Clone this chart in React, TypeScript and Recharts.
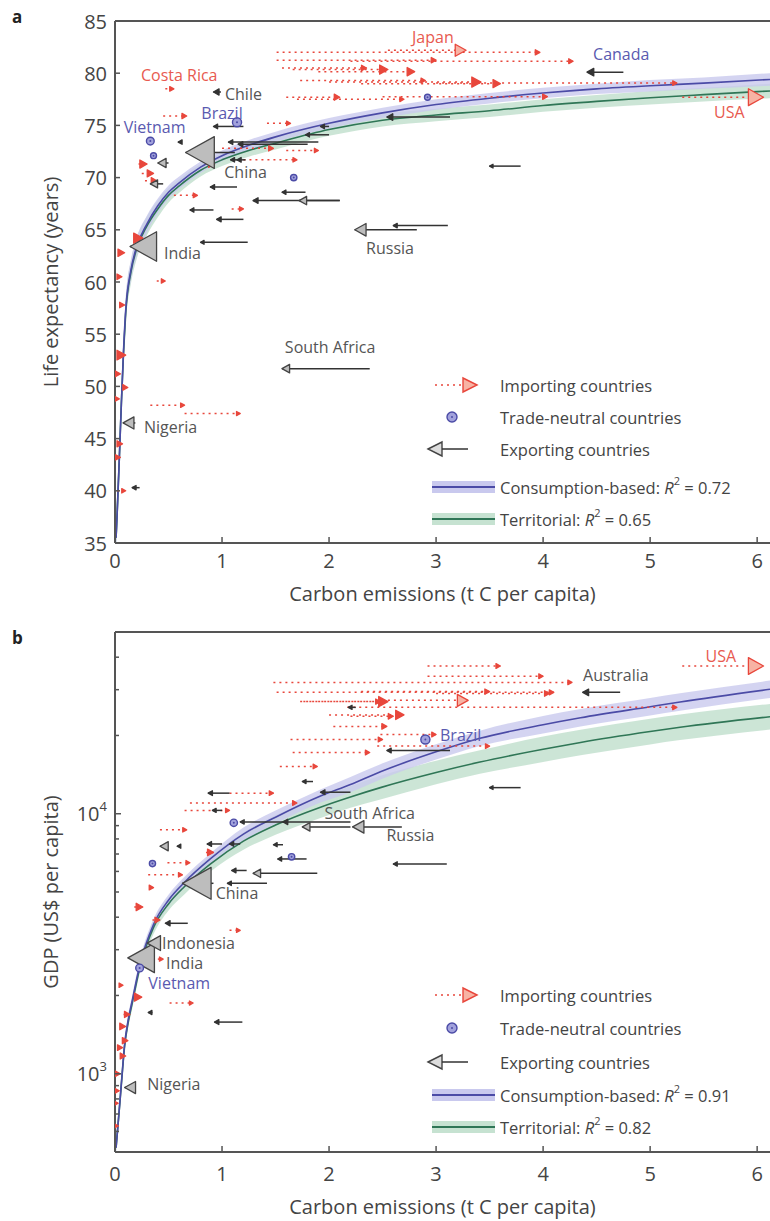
import React from "react";
import { ComposedChart, XAxis, YAxis, Line, Area, Scatter, ReferenceLine } from "recharts";

const FONT = '"Open Sans", "DejaVu Sans", sans-serif';
const INK = "#444";
const AXIS = "#555";
const RED = "#e8473c";
const RED_FILL = "#f7b3a4";
const BLUE = "#4b4ba6";
const BLUE_BAND = "#c9c9ee";
const GREEN = "#2f7656";
const GREEN_BAND = "#c6e2d1";
const NEUTRAL_FILL = "#a2a2dc";
const EXP_FILL = "#bdbdbd";
const TAG_COLORS: Record<string, string> = { imp: "#e85a50", neu: "#5a5ab0", exp: "#555" };

const emissionTicks = [0, 1, 2, 3, 4, 5, 6];
const lifeTicks = [35, 40, 45, 50, 55, 60, 65, 70, 75, 80, 85];
const gdpTicks = [600, 700, 800, 900, 1000, 2000, 3000, 4000, 5000, 6000, 7000, 8000, 9000, 10000, 20000, 30000, 40000];

// ---- (a) life expectancy vs per-capita carbon ----
const fitEmissionsA = [0.01, 0.02, 0.04, 0.06, 0.08, 0.1, 0.15, 0.2, 0.3, 0.4, 0.5, 0.6, 0.8, 1, 1.25, 1.5, 2, 2.5, 3, 3.5, 4, 4.5, 5, 5.5, 6.12];
const consFitA = [35.5, 37.8, 43, 48.5, 53.5, 57.3, 61.2, 63.3, 65.6, 67.3, 68.6, 69.5, 71.0, 72.1, 73.1, 73.9, 75.2, 76.2, 77.0, 77.6, 78.1, 78.5, 78.8, 79.05, 79.4];
const consSpreadA = [1.5, 1.5, 1.4, 1.3, 1.2, 1.1, 1.0, 0.9, 0.8, 0.7, 0.65, 0.6, 0.55, 0.5, 0.5, 0.5, 0.5, 0.5, 0.5, 0.5, 0.5, 0.5, 0.55, 0.55, 0.6];
const terrFitA = [35.5, 37.8, 43, 48.5, 53.3, 57.0, 61.0, 63.1, 65.4, 67.0, 68.3, 69.2, 70.7, 71.7, 72.6, 73.3, 74.6, 75.5, 76.0, 76.4, 76.9, 77.3, 77.65, 77.95, 78.3];
const terrSpreadA = [1.6, 1.6, 1.5, 1.4, 1.3, 1.2, 1.1, 1.0, 0.9, 0.8, 0.7, 0.65, 0.6, 0.6, 0.6, 0.6, 0.6, 0.6, 0.6, 0.6, 0.6, 0.6, 0.65, 0.65, 0.7];

// [territorial, consumption, life expectancy, population (millions)]
const importersA: number[][] = [
  [1.51, 3.97, 82.0, 7], [2.55, 3.28, 82.2, 127], [1.51, 3.0, 81.25, 9], [2.2, 4.28, 81.15, 5],
  [1.66, 2.55, 80.35, 60], [1.9, 2.8, 80.15, 45], [1.56, 2.35, 80.5, 10], [1.73, 2.9, 79.3, 5],
  [2.0, 3.42, 79.15, 82], [2.3, 3.6, 79.0, 40], [3.0, 5.25, 79.05, 4], [1.6, 2.1, 77.7, 15],
  [2.5, 4.04, 77.75, 8], [1.7, 2.7, 77.5, 4], [5.3, 6.06, 77.7, 300], [0.47, 0.55, 78.5, 4],
  [0.45, 0.67, 75.9, 8], [1.42, 1.64, 75.2, 3], [0.22, 0.3, 71.3, 40], [0.25, 0.36, 70.4, 25],
  [0.28, 0.39, 69.7, 15], [1.0, 1.48, 72.8, 8], [1.6, 1.9, 72.6, 3], [1.2, 1.7, 71.7, 3],
  [0.85, 0.93, 71.3, 20], [0.55, 0.77, 68.3, 4], [1.09, 1.2, 67.0, 3], [0.2, 0.26, 64.2, 80],
  [0.05, 0.09, 62.8, 30], [0.39, 0.47, 60.1, 3], [0.04, 0.065, 60.5, 10], [0.06, 0.09, 57.8, 10],
  [0.05, 0.1, 53.0, 70], [0.02, 0.05, 51.2, 15], [0.08, 0.12, 49.9, 10], [0.01, 0.04, 48.8, 10],
  [0.04, 0.07, 44.5, 15], [0.02, 0.05, 43.2, 8], [0.02, 0.1, 40.0, 3], [0.33, 0.65, 48.2, 3],
  [0.65, 1.17, 47.4, 2],
];
const exportersA: number[][] = [
  [1.12, 0.66, 72.4, 1300], [0.33, 0.14, 63.4, 1100], [1.9, 1.06, 73.4, 5], [1.8, 1.15, 73.2, 8],
  [0.99, 0.92, 78.2, 16], [1.2, 0.92, 74.9, 4], [0.62, 0.59, 73.4, 3], [1.14, 1.08, 71.7, 3],
  [1.22, 1.14, 71.7, 4], [1.14, 0.89, 69.1, 5], [1.78, 1.56, 68.6, 3], [2.1, 1.29, 67.8, 10],
  [2.1, 1.72, 67.8, 45], [0.92, 0.7, 66.9, 3], [1.2, 0.95, 66.0, 6], [1.24, 0.8, 63.8, 1],
  [2.82, 2.24, 65.0, 143], [3.11, 2.6, 65.4, 3], [3.79, 3.5, 71.1, 1], [2.38, 1.56, 51.7, 47],
  [0.19, 0.075, 46.5, 130], [0.23, 0.16, 40.3, 3], [0.5, 0.4, 71.4, 60], [0.45, 0.33, 69.4, 40],
  [3.13, 2.54, 75.8, 20], [2.0, 1.92, 74.9, 3], [2.0, 1.78, 74.1, 3], [4.75, 4.41, 80.1, 32],
];
// [emissions, life expectancy, population]
const neutralA: number[][] = [
  [1.14, 75.3, 186], [0.33, 73.5, 85], [0.36, 72.1, 10], [1.67, 70.0, 20], [2.92, 77.7, 10],
];
const namesA: [string, number, number, string][] = [
  ["Japan", 2.97, 83.5, "imp"], ["Canada", 4.73, 81.8, "neu"], ["USA", 5.74, 76.25, "imp"],
  ["Costa Rica", 0.6, 79.8, "imp"], ["Chile", 1.2, 78.05, "exp"], ["Brazil", 1.0, 76.2, "neu"],
  ["Vietnam", 0.37, 74.8, "neu"], ["China", 1.22, 70.5, "exp"], ["India", 0.63, 62.8, "exp"],
  ["Russia", 2.57, 63.3, "exp"], ["South Africa", 2.01, 53.75, "exp"], ["Nigeria", 0.52, 46.15, "exp"],
];

// ---- (b) GDP vs per-capita carbon ----
const fitEmissionsB = [0.01, 0.03, 0.05, 0.07, 0.09, 0.12, 0.16, 0.23, 0.36, 0.5, 0.65, 0.89, 1.2, 1.5, 1.92, 2.2, 2.48, 3, 3.41, 4, 4.35, 5, 5.28, 6.12];
const consFitB = [520, 650, 820, 1040, 1300, 1580, 1900, 2600, 3750, 4650, 5450, 6700, 8350, 9700, 11700, 12950, 14500, 17300, 19500, 22000, 23400, 25800, 26900, 30100];
const consSpreadB = [1.05, 1.05, 1.05, 1.05, 1.05, 1.05, 1.05, 1.05, 1.05, 1.05, 1.05, 1.05, 1.06, 1.06, 1.06, 1.07, 1.07, 1.07, 1.07, 1.08, 1.08, 1.08, 1.08, 1.08];
const terrFitB = [520, 650, 815, 1030, 1280, 1550, 1860, 2540, 3650, 4500, 5250, 6400, 7850, 9050, 10600, 11600, 12600, 14400, 15800, 17700, 18800, 20700, 21500, 23600];
const terrSpreadB = [1.05, 1.05, 1.05, 1.05, 1.05, 1.05, 1.05, 1.05, 1.06, 1.06, 1.07, 1.07, 1.08, 1.09, 1.1, 1.1, 1.11, 1.11, 1.11, 1.12, 1.12, 1.12, 1.12, 1.12];

// [territorial, consumption, GDP per capita, population (millions)]
const importersB: number[][] = [
  [2.92, 3.6, 37000, 5], [2.92, 4.0, 33800, 5], [5.3, 6.06, 37000, 300], [1.48, 4.27, 32000, 4],
  [1.51, 4.1, 29300, 6], [2.3, 3.5, 29500, 8], [3.0, 4.06, 29000, 10], [2.55, 3.3, 27300, 127],
  [1.73, 2.55, 27000, 82], [2.0, 2.7, 24000, 60], [1.76, 2.48, 27000, 8], [2.17, 5.25, 25650, 4],
  [2.2, 2.6, 23700, 10], [2.04, 2.54, 21670, 10], [2.48, 3.0, 20170, 5], [1.64, 2.5, 19300, 5],
  [2.45, 3.5, 18200, 4], [1.66, 2.38, 17200, 5], [1.54, 1.89, 15200, 4], [1.07, 1.48, 12000, 4],
  [0.7, 1.7, 11000, 5], [0.65, 1.07, 10300, 3], [0.42, 0.67, 8670, 3], [0.85, 0.92, 7100, 20],
  [0.49, 0.7, 6480, 3], [0.31, 0.63, 5820, 3], [0.33, 0.36, 5200, 5], [0.18, 0.26, 4380, 30],
  [0.35, 0.42, 3900, 10], [1.07, 1.17, 3560, 2], [0.4, 0.45, 2760, 2], [0.05, 0.075, 2190, 3],
  [0.2, 0.25, 1970, 40], [0.51, 0.73, 1870, 2], [0.08, 0.14, 1690, 15], [0.06, 0.1, 1520, 20],
  [0.08, 0.12, 1340, 15], [0.04, 0.07, 1260, 10], [0.06, 0.1, 1170, 15], [0.01, 0.05, 1000, 10],
  [0.02, 0.04, 860, 15], [0.01, 0.03, 770, 8], [0.02, 0.03, 630, 8],
];
const exportersB: number[][] = [
  [0.92, 0.63, 5400, 1300], [0.3, 0.12, 2790, 1100], [0.42, 0.3, 3180, 220], [0.19, 0.09, 885, 130],
  [4.72, 4.37, 29300, 20], [3.13, 2.54, 17500, 5], [1.85, 1.75, 13300, 2], [1.07, 0.87, 12000, 5],
  [2.2, 1.92, 12100, 6], [1.0, 0.91, 10300, 2], [1.59, 1.17, 9300, 3], [2.2, 1.57, 9300, 8],
  [2.2, 1.75, 8900, 47], [2.68, 2.22, 8900, 143], [0.45, 0.42, 7500, 60], [0.6, 0.58, 7500, 2],
  [1.0, 0.86, 7650, 6], [1.17, 1.07, 7650, 4], [1.57, 1.48, 7600, 2], [1.79, 1.52, 6700, 3],
  [1.23, 1.09, 6050, 5], [1.89, 1.29, 5900, 45], [1.42, 1.05, 5400, 3], [0.68, 0.47, 3790, 8],
  [0.35, 0.31, 1720, 2], [1.19, 0.93, 1580, 5], [3.79, 3.5, 12600, 1], [3.1, 2.6, 6410, 3],
  [2.25, 2.18, 25650, 2],
];
const neutralB: number[][] = [
  [2.9, 19300, 186], [1.11, 9230, 60], [1.65, 6830, 20], [0.35, 6430, 15], [0.23, 2550, 85],
];
const namesB: [string, number, number, string][] = [
  ["USA", 5.66, 40400, "imp"], ["Australia", 4.68, 34100, "exp"], ["Brazil", 3.23, 20000, "neu"],
  ["South Africa", 2.38, 10090, "exp"], ["Russia", 2.76, 8300, "exp"], ["China", 1.14, 4950, "exp"],
  ["Indonesia", 0.78, 3175, "exp"], ["India", 0.65, 2660, "exp"], ["Vietnam", 0.6, 2225, "neu"],
  ["Nigeria", 0.55, 915, "exp"],
];

// ---- helpers ----
const headSize = (pop: number) => 3 + 0.8 * Math.sqrt(pop);

const fitRows = (xs: number[], ys: number[]) => xs.map((x, i) => ({ x, y: ys[i] }));
const bandAdd = (xs: number[], ys: number[], s: number[]) => xs.map((x, i) => ({ x, band: [ys[i] - s[i], ys[i] + s[i]] }));
const bandMul = (xs: number[], ys: number[], s: number[]) => xs.map((x, i) => ({ x, band: [ys[i] / s[i], ys[i] * s[i]] }));
const heads = (rows: number[][]) => rows.map(([t, c, y, pop]) => ({ x: c, y, t, pop }));
const dots = (rows: number[][]) => rows.map(([x, y, pop]) => ({ x, y, pop }));
const tags = (rows: [string, number, number, string][]) => rows.map(([name, x, y, tone]) => ({ name, x, y, tone }));

function ImportHead(p: any) {
  const { cx, cy, payload } = p;
  const s = headSize(payload.pop);
  const len = s * 0.9;
  const pts = `${cx},${cy} ${cx - len},${cy - s / 2} ${cx - len},${cy + s / 2}`;
  return <polygon points={pts} fill={s < 11 ? RED : RED_FILL} stroke={RED} strokeWidth={1.3} strokeLinejoin="round" />;
}

function ExportHead(p: any) {
  const { cx, cy, payload } = p;
  const s = headSize(payload.pop);
  const len = s * 0.9;
  const pts = `${cx},${cy} ${cx + len},${cy - s / 2} ${cx + len},${cy + s / 2}`;
  const small = s < 8;
  return <polygon points={pts} fill={small ? "#333" : EXP_FILL} stroke={small ? "#333" : "#444"} strokeWidth={1.3} strokeLinejoin="round" />;
}

function NeutralDot(p: any) {
  const { cx, cy, payload } = p;
  const r = 2.5 + 0.15 * Math.sqrt(payload.pop);
  return (
    <g>
      <circle cx={cx} cy={cy} r={r} fill={NEUTRAL_FILL} stroke={BLUE} strokeWidth={1.4} />
      <circle cx={cx} cy={cy} r={1} fill={BLUE} />
    </g>
  );
}

function NameTag(p: any) {
  const { cx, cy, payload } = p;
  return (
    <text x={cx} y={cy} textAnchor="middle" dominantBaseline="central" fontSize={16} fontFamily={FONT} fill={TAG_COLORS[payload.tone]}>
      {payload.name}
    </text>
  );
}

const tickText = { fontSize: 20, fill: INK, fontFamily: FONT };

function linYTick(p: any) {
  const ax = p.x + 8;
  return (
    <g>
      <line x1={ax} x2={ax + 5} y1={p.y} y2={p.y} stroke={AXIS} strokeWidth={1.5} />
      <text x={p.x} y={p.y} textAnchor="end" dominantBaseline="central" {...tickText}>{p.payload.value}</text>
    </g>
  );
}

function logYTick(p: any) {
  const v = p.payload.value;
  const ax = p.x + 8;
  const major = v === 1000 || v === 10000;
  return (
    <g>
      <line x1={ax} x2={ax + (major ? 6 : 4)} y1={p.y} y2={p.y} stroke={AXIS} strokeWidth={1.5} />
      {major && (
        <text x={p.x} y={p.y} textAnchor="end" dominantBaseline="central" {...tickText}>
          10<tspan dy={-8} fontSize={13}>{Math.round(Math.log10(v))}</tspan>
        </text>
      )}
    </g>
  );
}

const xTick = (margin: number) => (p: any) => {
  const ay = p.y - margin;
  return (
    <g>
      <line x1={p.x} x2={p.x} y1={ay} y2={ay - 6} stroke={AXIS} strokeWidth={1.5} />
      <text x={p.x} y={p.y} textAnchor="middle" dominantBaseline="central" {...tickText}>{p.payload.value}</text>
    </g>
  );
};

const xTitle = (text: string, dy: number) => (p: any) => {
  const vb = p.viewBox ?? { x: 115, y: 543, width: 655, height: 69 };
  return (
    <text x={vb.x + vb.width / 2} y={vb.y + dy} textAnchor="middle" dominantBaseline="central" fontSize={20} fill={INK} fontFamily={FONT}>
      {text}
    </text>
  );
};

const yTitle = (text: string) => (p: any) => {
  const vb = p.viewBox ?? { x: 0, y: 21, width: 115, height: 522 };
  const cx = vb.x + 50;
  const cy = vb.y + vb.height / 2;
  return (
    <text x={cx} y={cy} transform={`rotate(-90, ${cx}, ${cy})`} textAnchor="middle" dominantBaseline="central" fontSize={20} fill={INK} fontFamily={FONT}>
      {text}
    </text>
  );
};

function shafts(importers: number[][], exporters: number[][], prefix: string) {
  const out: React.ReactNode[] = [];
  importers.forEach(([t, c, y], i) =>
    out.push(
      <ReferenceLine key={`${prefix}i${i}`} segment={[{ x: t, y }, { x: c, y }]} stroke={RED} strokeWidth={1.5} strokeDasharray="2 4" />
    )
  );
  exporters.forEach(([t, c, y], i) =>
    out.push(<ReferenceLine key={`${prefix}e${i}`} segment={[{ x: t, y }, { x: c, y }]} stroke="#333" strokeWidth={1.5} />)
  );
  return out;
}

function Key({ top, consR2, terrR2, rows }: { top: number; consR2: string; terrR2: string; rows: number[] }) {
  const text = { fontSize: 16.5, fill: INK, fontFamily: FONT, dominantBaseline: "central" as const };
  const fitLabel = (name: string, r2: string, y: number) => (
    <text x={80} y={y} {...text}>
      {name} <tspan fontStyle="italic">R</tspan>
      <tspan dy={-7} fontSize={11}>2</tspan>
      <tspan dy={7}> = {r2}</tspan>
    </text>
  );
  return (
    <svg width={350} height={175} style={{ position: "absolute", left: 420, top: top - 15 }}>
      <g transform="translate(0,15)">
        <line x1={15} x2={41} y1={rows[0]} y2={rows[0]} stroke={RED} strokeWidth={1.5} strokeDasharray="2 4" />
        <polygon points={`57,${rows[0]} 43,${rows[0] - 7} 43,${rows[0] + 7}`} fill={RED_FILL} stroke={RED} strokeWidth={1.4} />
        <text x={80} y={rows[0]} {...text}>Importing countries</text>

        <circle cx={32} cy={rows[1]} r={5} fill={NEUTRAL_FILL} stroke={BLUE} strokeWidth={1.4} />
        <circle cx={32} cy={rows[1]} r={1} fill={BLUE} />
        <text x={80} y={rows[1]} {...text}>Trade-neutral countries</text>

        <polygon points={`8,${rows[2]} 22,${rows[2] - 7} 22,${rows[2] + 7}`} fill="#ddd" stroke="#444" strokeWidth={1.4} />
        <line x1={22} x2={48} y1={rows[2]} y2={rows[2]} stroke="#333" strokeWidth={1.5} />
        <text x={80} y={rows[2]} {...text}>Exporting countries</text>

        <rect x={12} y={rows[3] - 6} width={63} height={12} fill={BLUE_BAND} />
        <line x1={12} x2={75} y1={rows[3]} y2={rows[3]} stroke={BLUE} strokeWidth={2} />
        {fitLabel("Consumption-based:", consR2, rows[3])}

        <rect x={12} y={rows[4] - 6} width={63} height={12} fill={GREEN_BAND} />
        <line x1={12} x2={75} y1={rows[4]} y2={rows[4]} stroke={GREEN} strokeWidth={2} />
        {fitLabel("Territorial:", terrR2, rows[4])}
      </g>
    </svg>
  );
}

function LifePanel() {
  return (
    <ComposedChart width={770} height={612} margin={{ top: 21, right: 0, bottom: 0, left: 0 }}>
      <XAxis type="number" dataKey="x" domain={[0, 6.12]} ticks={emissionTicks} allowDataOverflow interval={0}
        height={69} tickSize={0} tickMargin={17} tickLine={false} axisLine={{ stroke: AXIS, strokeWidth: 2 }}
        tick={xTick(17)} label={xTitle("Carbon emissions (t C per capita)", 50)} />
      <YAxis type="number" dataKey="y" domain={[35, 85]} ticks={lifeTicks} allowDataOverflow interval={0}
        width={115} tickSize={0} tickMargin={8} tickLine={false} axisLine={{ stroke: AXIS, strokeWidth: 2 }}
        tick={linYTick} label={yTitle("Life expectancy (years)")} />
      <ReferenceLine y={85} stroke={AXIS} strokeWidth={2} />
      <Area data={bandAdd(fitEmissionsA, terrFitA, terrSpreadA)} dataKey="band" type="monotone" stroke="none" fill={GREEN_BAND} fillOpacity={0.9} isAnimationActive={false} />
      <Area data={bandAdd(fitEmissionsA, consFitA, consSpreadA)} dataKey="band" type="monotone" stroke="none" fill={BLUE_BAND} fillOpacity={0.8} isAnimationActive={false} />
      <Line data={fitRows(fitEmissionsA, terrFitA)} dataKey="y" type="monotone" stroke={GREEN} strokeWidth={1.6} dot={false} isAnimationActive={false} />
      <Line data={fitRows(fitEmissionsA, consFitA)} dataKey="y" type="monotone" stroke={BLUE} strokeWidth={1.6} dot={false} isAnimationActive={false} />
      {shafts(importersA, exportersA, "a")}
      <Scatter data={heads(importersA)} shape={ImportHead} isAnimationActive={false} />
      <Scatter data={heads(exportersA)} shape={ExportHead} isAnimationActive={false} />
      <Scatter data={dots(neutralA)} shape={NeutralDot} isAnimationActive={false} />
      <Scatter data={tags(namesA)} shape={NameTag} isAnimationActive={false} />
    </ComposedChart>
  );
}

function GdpPanel() {
  return (
    <ComposedChart width={770} height={609} margin={{ top: 20, right: 0, bottom: 0, left: 0 }}>
      <XAxis type="number" dataKey="x" domain={[0, 6.12]} ticks={emissionTicks} allowDataOverflow interval={0}
        height={69} tickSize={0} tickMargin={21} tickLine={false} axisLine={{ stroke: AXIS, strokeWidth: 2 }}
        tick={xTick(21)} label={xTitle("Carbon emissions (t C per capita)", 54)} />
      <YAxis type="number" dataKey="y" scale="log" domain={[500, 50000]} ticks={gdpTicks} allowDataOverflow interval={0}
        width={115} tickSize={0} tickMargin={8} tickLine={false} axisLine={{ stroke: AXIS, strokeWidth: 2 }}
        tick={logYTick} label={yTitle("GDP (US$ per capita)")} />
      <ReferenceLine y={50000} stroke={AXIS} strokeWidth={2} />
      <Area data={bandMul(fitEmissionsB, terrFitB, terrSpreadB)} dataKey="band" type="monotone" stroke="none" fill={GREEN_BAND} fillOpacity={0.9} isAnimationActive={false} />
      <Area data={bandMul(fitEmissionsB, consFitB, consSpreadB)} dataKey="band" type="monotone" stroke="none" fill={BLUE_BAND} fillOpacity={0.8} isAnimationActive={false} />
      <Line data={fitRows(fitEmissionsB, terrFitB)} dataKey="y" type="monotone" stroke={GREEN} strokeWidth={1.6} dot={false} isAnimationActive={false} />
      <Line data={fitRows(fitEmissionsB, consFitB)} dataKey="y" type="monotone" stroke={BLUE} strokeWidth={1.6} dot={false} isAnimationActive={false} />
      {shafts(importersB, exportersB, "b")}
      <Scatter data={heads(importersB)} shape={ImportHead} isAnimationActive={false} />
      <Scatter data={heads(exportersB)} shape={ExportHead} isAnimationActive={false} />
      <Scatter data={dots(neutralB)} shape={NeutralDot} isAnimationActive={false} />
      <Scatter data={tags(namesB)} shape={NameTag} isAnimationActive={false} />
    </ComposedChart>
  );
}

const panelLetter = (top: number): React.CSSProperties => ({
  position: "absolute", left: 12, top, fontSize: 17, fontWeight: 700, color: "#222", fontFamily: FONT,
});

export default function App() {
  return (
    <div style={{ position: "absolute", left: 0, top: 0, width: 770, height: 1221, background: "#fff", overflow: "hidden", fontFamily: FONT }}>
      <div style={{ position: "absolute", left: 0, top: 0 }}>
        <LifePanel />
      </div>
      <div style={panelLetter(5)}>a</div>
      <Key top={385} consR2="0.72" terrR2="0.65" rows={[0, 32, 64, 102, 134]} />
      <div style={{ position: "absolute", left: 0, top: 612 }}>
        <GdpPanel />
      </div>
      <div style={panelLetter(626)}>b</div>
      <Key top={995} consR2="0.91" terrR2="0.82" rows={[0, 33, 67, 100, 132]} />
    </div>
  );
}
